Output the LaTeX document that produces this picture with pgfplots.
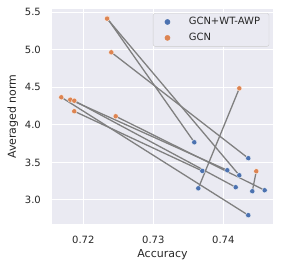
\documentclass[border=0pt]{standalone}
\usepackage{pgfplots}
\pgfplotsset{compat=1.18}
\usepackage{fontspec}
\setmainfont{DejaVu Sans}
\definecolor{sbbg}{HTML}{EAEAF2}
\definecolor{sbblue}{HTML}{4C72B0}
\definecolor{sborange}{HTML}{DD8452}
\definecolor{txt}{HTML}{262626}
\definecolor{lgray}{HTML}{808080}
\definecolor{legframe}{HTML}{CCCCCC}
\begin{document}
\begin{tikzpicture}
\begin{axis}[
  scale only axis, width=221pt, height=215pt,
  xmin=0.71553, xmax=0.7471, ymin=2.68, ymax=5.54,
  axis background/.style={fill=sbbg},
  axis line style={draw=none},
  grid=major, grid style={white, line width=1pt},
  major tick length=0pt,
  xtick={0.72,0.73,0.74}, ytick={3,3.5,4,4.5,5,5.5},
  /pgf/number format/assume math mode=true,
  xticklabel style={/pgf/number format/fixed, /pgf/number format/precision=2, /pgf/number format/fixed zerofill, anchor=north, inner sep=0pt, yshift=-12pt},
  yticklabel style={/pgf/number format/fixed, /pgf/number format/precision=1, /pgf/number format/fixed zerofill, anchor=east, inner sep=0pt, xshift=-11pt},
  tick label style={font=\fontsize{10}{12}\selectfont, text=txt},
  xlabel={Accuracy}, ylabel={Averaged norm},
  label style={font=\fontsize{11}{13}\selectfont, text=txt},
  xlabel style={at={(axis description cs:0.5,-0.1163)}, anchor=north, inner sep=0pt},
  ylabel style={at={(axis description cs:-0.2023,0.5)}, anchor=north, inner sep=0pt},
  legend style={at={(0.983,0.98)}, anchor=north east, fill=sbbg, draw=legframe, rounded corners=2pt,
    font=\fontsize{10}{12}\selectfont, text=txt, inner xsep=0pt, inner ysep=4pt,
    nodes={inner sep=0pt}, row sep=7pt, column sep=0pt},
  legend cell align=left,
  legend image code/.code={\path[draw=none, fill=none] (0pt,-2.5pt) rectangle (35.6pt,2.5pt); \fill[#1, rounded corners=0pt] (14.3pt,0pt) circle (2.6pt);},
]
% GCN+WT-AWP
\addplot[only marks, mark=*, mark size=2.6pt, mark options={fill=sbblue, draw=white, line width=0.3pt}, sbblue] coordinates {
 (0.73586,3.767) (0.74229,3.328) (0.74357,3.555) (0.73643,3.155) (0.74414,3.116)
 (0.74357,2.797) (0.74057,3.395) (0.74177,3.169) (0.73700,3.386) (0.74591,3.129)};
\addlegendentry{GCN+WT-AWP\hspace*{9pt}}
% GCN
\addplot[only marks, mark=*, mark size=2.6pt, mark options={fill=sborange, draw=white, line width=0.3pt}, sborange] coordinates {
 (0.72343,5.416) (0.72340,5.412) (0.72400,4.964) (0.74229,4.485) (0.74471,3.382)
 (0.71686,4.366) (0.71814,4.334) (0.71871,4.320) (0.71871,4.180) (0.72463,4.113)};
\addlegendentry{GCN}
% connecting lines
\addplot[lgray, line width=1.3pt, forget plot] coordinates {(0.72343,5.416) (0.73586,3.767)};
\addplot[lgray, line width=1.3pt, forget plot] coordinates {(0.72340,5.412) (0.74229,3.328)};
\addplot[lgray, line width=1.3pt, forget plot] coordinates {(0.72400,4.964) (0.74357,3.555)};
\addplot[lgray, line width=1.3pt, forget plot] coordinates {(0.74229,4.485) (0.73643,3.155)};
\addplot[lgray, line width=1.3pt, forget plot] coordinates {(0.74471,3.382) (0.74414,3.116)};
\addplot[lgray, line width=1.3pt, forget plot] coordinates {(0.71686,4.366) (0.74357,2.797)};
\addplot[lgray, line width=1.3pt, forget plot] coordinates {(0.71814,4.334) (0.74057,3.395)};
\addplot[lgray, line width=1.3pt, forget plot] coordinates {(0.71871,4.320) (0.74177,3.169)};
\addplot[lgray, line width=1.3pt, forget plot] coordinates {(0.71871,4.180) (0.73700,3.386)};
\addplot[lgray, line width=1.3pt, forget plot] coordinates {(0.72463,4.113) (0.74591,3.129)};
\end{axis}
\path ([xshift=-52pt,yshift=-45pt]current axis.south west) rectangle ([xshift=8pt,yshift=9pt]current axis.north east);
\end{tikzpicture}
\end{document}
